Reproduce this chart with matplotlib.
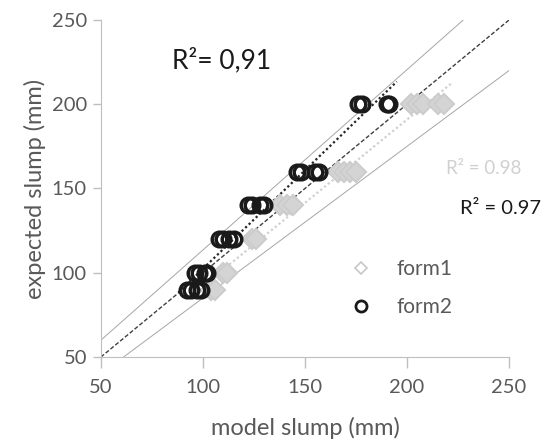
import matplotlib.pyplot as plt
import numpy as np

plt.rcParams['font.family'] = ['Lato', 'DejaVu Sans']

# expected slump levels (mm) and model slump readings for each formulation
form1_expected = [90, 90, 100, 100, 120, 120, 140, 140, 140, 160, 160, 160, 160, 200, 200, 200, 200, 200]
form1_model = [104, 106, 110, 112, 124, 126, 138, 141, 144, 166, 169, 172, 175, 202, 205, 208, 215, 218]

form2_expected = [90, 90, 90, 90, 100, 100, 100, 100, 120, 120, 120, 120, 140, 140, 140, 140, 160, 160, 160, 160, 200, 200, 200, 200]
form2_model = [92, 94, 97, 99, 96, 98, 101, 102, 108, 110, 113, 115, 122, 124, 128, 130, 146, 148, 155, 157, 176, 178, 190, 191]

ref_x = [50, 250]

fig = plt.figure(figsize=(5.48, 4.43), dpi=100)
ax = fig.add_axes([0.184, 0.194, 0.745, 0.761])

grey_text = '#595959'
spine_col = '#bfbfbf'

# 1:1 line and the upper / lower bounds
xr = np.array(ref_x, dtype=float)
ax.plot(xr, xr, color='#404040', lw=1.0, ls=(0, (3, 1.5)), zorder=2)
ax.plot(xr, 1.07 * xr + 6.5, color='#a6a6a6', lw=0.7, zorder=2)
ax.plot(xr, 0.9 * xr - 5, color='#a6a6a6', lw=0.7, zorder=2)

# linear trendlines
for xs, ys, col in [(form1_model, form1_expected, '#d0d0d0'),
                    (form2_model, form2_expected, '#262626')]:
    k, b = np.polyfit(xs, ys, 1)
    tx = np.array([min(xs) - 4, max(xs) + 4])
    ax.plot(tx, k * tx + b, color=col, lw=1.6, ls=(0, (1, 1.2)), zorder=3)

ax.plot(form1_model, form1_expected, ls='none', marker='D', ms=10.5, mfc='#d4d4d4',
        mec='#cccccc', mew=1.5, zorder=4)
ax.plot(form2_model, form2_expected, ls='none', marker='o', ms=10.5, mfc='none',
        mec='#1a1a1a', mew=2.5, zorder=5)

ax.set_xlim(50, 250)
ax.set_ylim(50, 250)
ax.set_xticks(range(50, 251, 50))
ax.set_yticks(range(50, 251, 50))
for s in ['top', 'right']:
    ax.spines[s].set_visible(False)
for s in ['left', 'bottom']:
    ax.spines[s].set_color(spine_col)
ax.tick_params(axis='both', colors=spine_col, labelcolor=grey_text, labelsize=14.5, width=1)
ax.tick_params(axis='x', length=8, pad=8)
ax.tick_params(axis='y', length=6, pad=4)

ax.set_xlabel('model slump (mm)', fontsize=17, color=grey_text, labelpad=15)
ax.set_ylabel('expected slump (mm)', fontsize=17, color=grey_text, labelpad=4)

ax.text(0.174, 0.881, 'R²= 0,91', transform=ax.transAxes, fontsize=19,
        color='#1a1a1a', va='center')
ax.text(0.845, 0.56, 'R² = 0.98', transform=ax.transAxes, fontsize=13.5,
        color='#d0d0d0', va='center')
ax.text(0.88, 0.44, 'R² = 0.97', transform=ax.transAxes, fontsize=14.5,
        color='#1a1a1a', va='center')

# legend drawn with proxy handles
h1, = ax.plot([], [], ls='none', marker='D', ms=6, mfc='none', mec='#c8c8c8', mew=1.2)
h2, = ax.plot([], [], ls='none', marker='o', ms=8, mfc='none', mec='#1a1a1a', mew=2)
leg = ax.legend([h1, h2], ['form1', 'form2'], loc='center left', bbox_to_anchor=(0.54, 0.205),
                frameon=False, fontsize=15, labelspacing=0.85, handletextpad=0.7)
for t in leg.get_texts():
    t.set_color(grey_text)

fig.savefig('out.png', dpi=100)
